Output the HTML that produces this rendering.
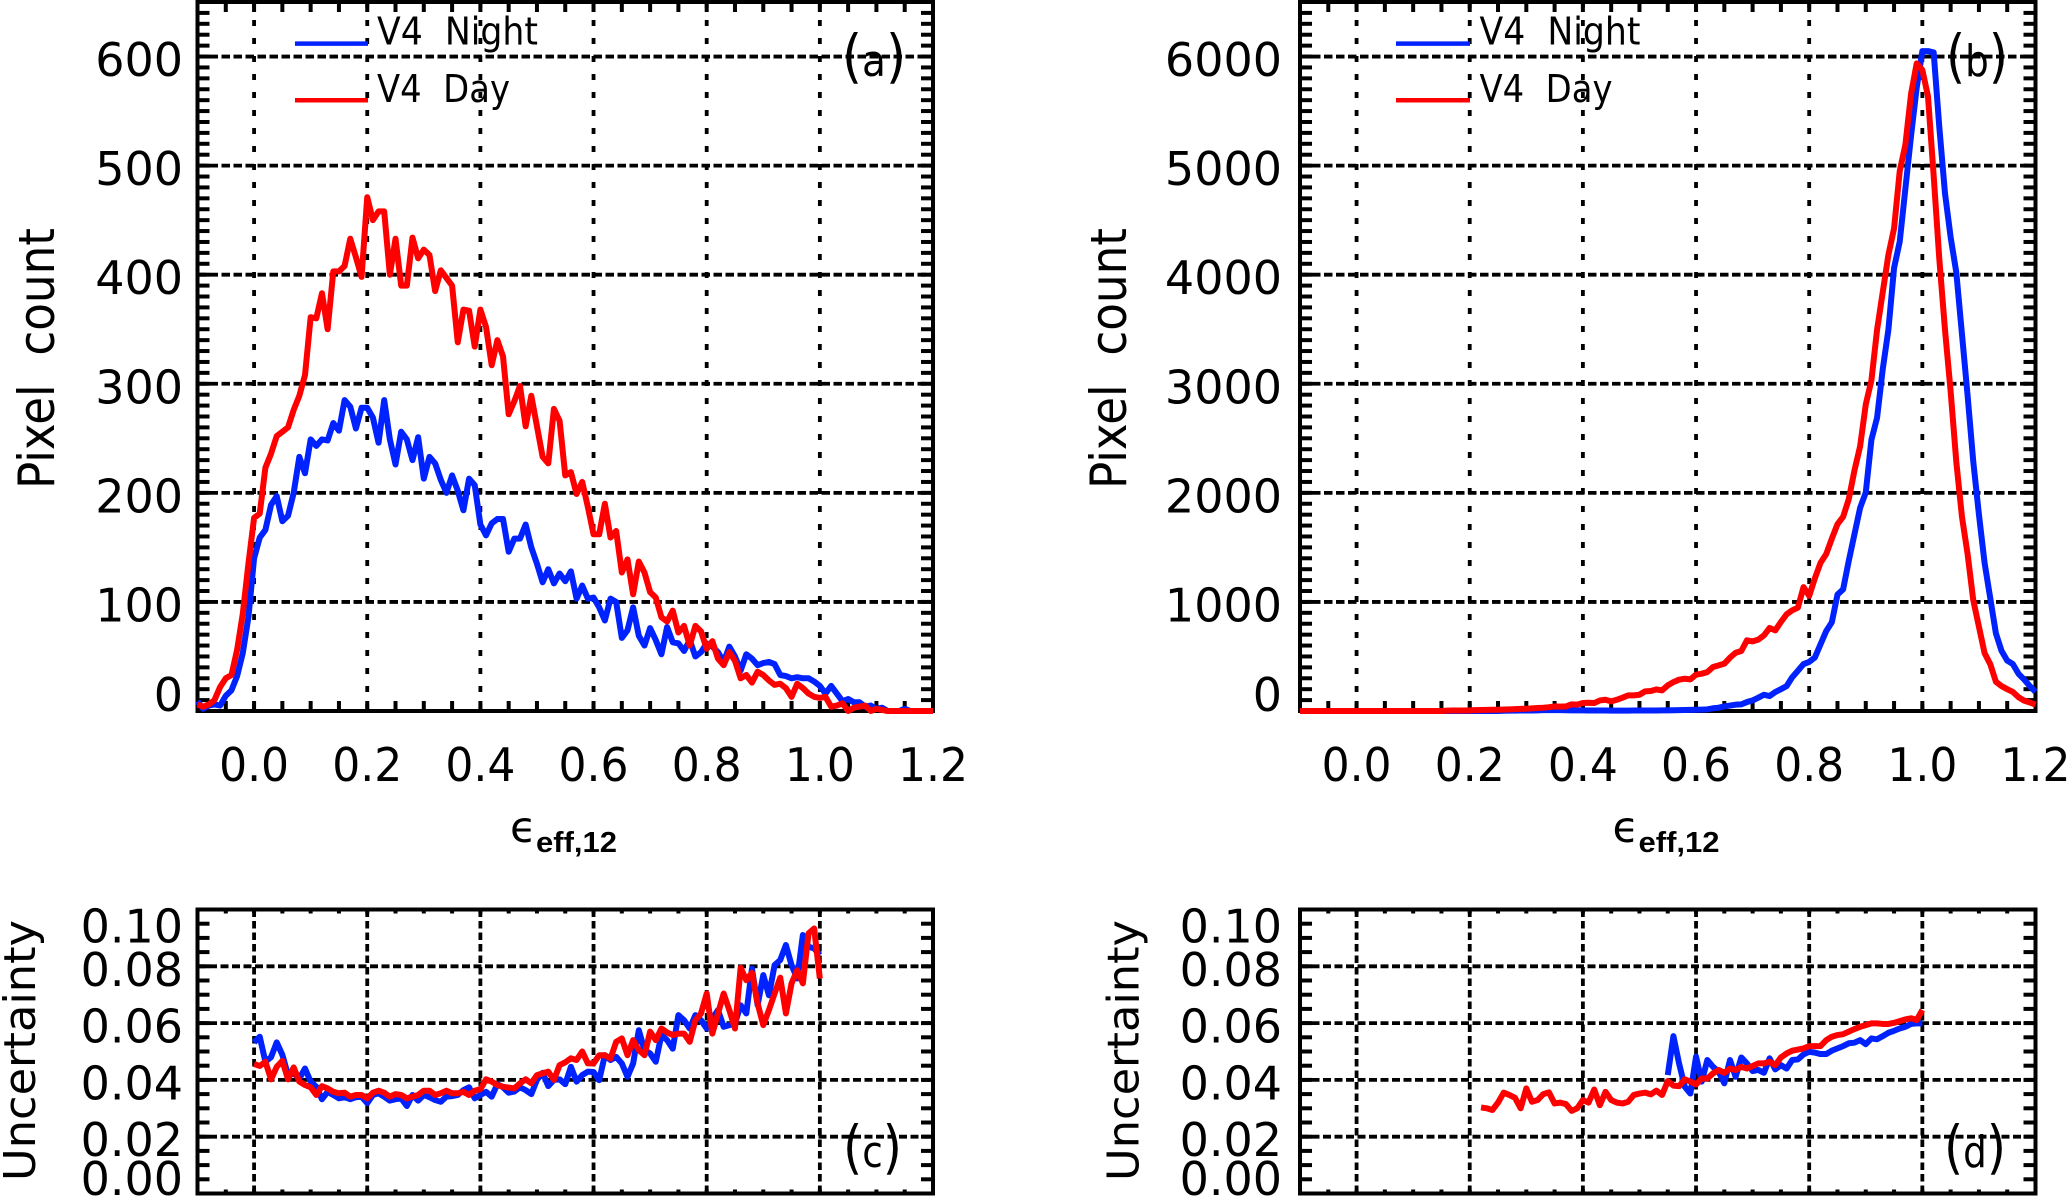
<!DOCTYPE html>
<html lang="en">
<head>
<meta charset="utf-8">
<title>Pixel count and uncertainty histograms</title>
<style>
html,body{margin:0;padding:0;background:#fff;}
body{width:2067px;height:1196px;overflow:hidden;}
svg{display:block;}
text{font-family:"DejaVu Sans","Liberation Sans",sans-serif;fill:#000;white-space:pre;}
.tick-label{font-size:46px;}
.y-title{font-size:50px;text-anchor:middle;}
.u-title{font-size:44px;text-anchor:middle;}
.legend-text{font-size:38px;}
.panel-tag{font-size:44px;}
.paren{font-size:58px;}
.eps{font-size:43px;}
.sub{font-family:"Liberation Sans",sans-serif;font-weight:bold;font-size:29px;}
</style>
</head>
<body>
<svg id="figure" xmlns="http://www.w3.org/2000/svg" width="2067" height="1196" viewBox="0 0 2067 1196">
  <rect x="0" y="0" width="2067" height="1196" fill="#fff"/>

  <g id="panel-a">
    <g class="plot"></g>
    <text class="y-title" x="54" y="358.5" transform="rotate(-90 54 358.5)" textLength="261" lengthAdjust="spacingAndGlyphs">Pixel  count</text>
    <g>
      <text class="eps" x="510" y="842">ϵ</text>
      <text class="sub" x="536" y="852" textLength="81" lengthAdjust="spacingAndGlyphs">eff,12</text>
    </g>
    <g>
      <line x1="295" x2="368" y1="43.6" y2="43.6" stroke="#0022ff" stroke-width="4.5"/>
      <text class="legend-text" x="377" y="44.6" textLength="161" lengthAdjust="spacingAndGlyphs">V4  Night</text>
      <line x1="295" x2="368" y1="100.3" y2="100.3" stroke="#ff0000" stroke-width="4.5"/>
      <text class="legend-text" x="377" y="101.8" textLength="133" lengthAdjust="spacingAndGlyphs">V4  Day</text>
    </g>
    <text class="panel-tag" x="842" y="76" textLength="64" lengthAdjust="spacingAndGlyphs"><tspan class="paren">(</tspan>a<tspan class="paren">)</tspan></text>
  </g>

  <g id="panel-b">
    <g class="plot"></g>
    <text class="y-title" x="1126" y="358.5" transform="rotate(-90 1126 358.5)" textLength="261" lengthAdjust="spacingAndGlyphs">Pixel  count</text>
    <g>
      <text class="eps" x="1612.5" y="842">ϵ</text>
      <text class="sub" x="1638.5" y="852" textLength="81" lengthAdjust="spacingAndGlyphs">eff,12</text>
    </g>
    <g>
      <line x1="1396" x2="1470" y1="43.6" y2="43.6" stroke="#0022ff" stroke-width="4.5"/>
      <text class="legend-text" x="1479.5" y="44.6" textLength="161" lengthAdjust="spacingAndGlyphs">V4  Night</text>
      <line x1="1396" x2="1470" y1="100.3" y2="100.3" stroke="#ff0000" stroke-width="4.5"/>
      <text class="legend-text" x="1479.5" y="101.8" textLength="133" lengthAdjust="spacingAndGlyphs">V4  Day</text>
    </g>
    <text class="panel-tag" x="1946" y="76" textLength="62" lengthAdjust="spacingAndGlyphs"><tspan class="paren">(</tspan>b<tspan class="paren">)</tspan></text>
  </g>

  <g id="panel-c">
    <g class="plot"></g>
    <text class="u-title" x="35" y="1050.5" transform="rotate(-90 35 1050.5)" textLength="261" lengthAdjust="spacingAndGlyphs">Uncertainty</text>
    <text class="panel-tag" x="843" y="1167" textLength="59" lengthAdjust="spacingAndGlyphs"><tspan class="paren">(</tspan>c<tspan class="paren">)</tspan></text>
  </g>

  <g id="panel-d">
    <g class="plot"></g>
    <text class="u-title" x="1138.5" y="1050.5" transform="rotate(-90 1138.5 1050.5)" textLength="261" lengthAdjust="spacingAndGlyphs">Uncertainty</text>
    <text class="panel-tag" x="1944" y="1167" textLength="62" lengthAdjust="spacingAndGlyphs"><tspan class="paren">(</tspan>d<tspan class="paren">)</tspan></text>
  </g>
</svg>

<script>
// ---- tick data ----
const xTickValues = [0, 0.2, 0.4, 0.6, 0.8, 1.0, 1.2];
const xTickLabels = ['0.0', '0.2', '0.4', '0.6', '0.8', '1.0', '1.2'];
const yTicksA = [0, 100, 200, 300, 400, 500, 600];
const yLabelsA = ['0', '100', '200', '300', '400', '500', '600'];
const yTicksB = [0, 1000, 2000, 3000, 4000, 5000, 6000];
const yLabelsB = ['0', '1000', '2000', '3000', '4000', '5000', '6000'];
const yTicksU = [0, 0.02, 0.04, 0.06, 0.08, 0.10];
const yLabelsU = ['0.00', '0.02', '0.04', '0.06', '0.08', '0.10'];

// ---- series values ----
// Panel (a): pixel counts, bins of 0.01 from -0.10
const nightCountsA = [9,2,5,6,5,14,19,32,53,86,140,159,166,189,197,174,179,200,233,218,249,243,249,248,264,257,285,279,259,278,278,269,246,285,249,226,256,249,230,251,213,233,227,212,200,216,202,184,213,207,171,161,172,176,176,146,158,158,171,150,135,118,130,117,126,119,128,103,115,103,104,95,83,103,100,67,74,95,69,60,76,65,52,77,63,62,55,65,50,54,62,59,54,45,59,50,37,52,48,42,44,45,43,33,32,30,31,30,30,27,23,16,23,16,9,11,8,8,4,5,2,3,0,0,0,2,0,0,0,0,0];
const dayCountsA = [6,4,6,10,22,30,33,56,89,135,177,181,223,236,252,256,260,276,289,308,361,360,383,350,403,403,408,433,416,398,471,450,458,458,400,433,390,390,434,415,423,418,385,404,397,390,338,368,367,334,368,352,317,340,325,272,284,298,261,289,261,233,227,277,266,216,219,199,210,187,162,162,190,159,165,127,139,107,137,127,109,104,86,82,92,72,78,60,78,73,57,64,48,42,54,46,30,33,26,36,33,28,24,25,21,13,25,21,16,13,12,13,4,5,7,0,3,4,5,0,2,1,0,0,0,0,0,0,0,0,0];
// Panel (b): pixel counts, bins of 0.01 from -0.10
const nightCountsB = [0,0,0,0,0,0,0,0,0,0,0,0,0,0,0,0,0,0,0,0,0,0,0,0,0,0,0,0,0,0,0,0,0,0,0,0,2,3,3,4,4,5,6,8,8,8,8,7,6,6,6,5,5,4,4,3,3,3,3,4,4,5,5,5,6,6,7,8,9,10,12,13,15,25,30,42,50,58,61,82,97,122,149,137,174,200,228,309,369,430,450,490,611,732,813,1067,1116,1378,1620,1862,2003,2487,2689,3133,3496,4061,4303,4787,5272,5715,6050,6050,6038,5352,4747,4344,4021,3456,2891,2286,1802,1358,1035,712,551,462,430,341,288,228,175];
const dayCountsB = [0,0,0,0,0,0,0,0,0,0,0,0,0,0,0,0,0,0,0,0,0,0,0,0,0,0,3,4,4,5,6,8,9,10,11,12,14,15,17,19,21,24,27,30,35,42,40,42,61,58,73,76,73,97,103,88,103,122,143,143,149,180,183,198,189,235,265,287,296,290,333,342,357,403,418,434,489,534,550,648,638,654,693,761,739,816,886,923,947,1136,1055,1216,1358,1438,1580,1713,1781,1943,2205,2427,2810,3032,3496,3839,4182,4424,4949,5191,5655,5937,5877,5635,4908,4142,3496,2931,2286,1781,1438,1015,773,531,430,268,228,200,175,127,95,78,58];
// Panel (c): uncertainty x 1000, bins of 0.01 from 0.00
const nightUncC = [53.2,55.2,46.4,48,53.2,48.8,41.7,42.3,40.5,44,39.4,37.6,33.2,35.8,34.7,33.5,33.9,33.2,33.9,34.1,31.8,34.7,35.3,34.1,32.7,33.2,33.5,30.8,34.7,32.7,34.7,33.9,32.9,32.3,34.1,34.3,34.7,36.4,37.4,33.5,34.7,35.8,34.1,38.5,37.4,35.5,35.9,37.4,36.4,35,40,42.5,37.8,40,40.2,38.5,44.6,39.4,41.7,42.9,42.8,39.9,48.7,47,48.1,45.8,41.1,45.8,57.5,50.5,49.3,46.4,55.8,54,51,62.8,61,58.1,62.8,61,58.1,61.6,64.6,58.7,59.3,59.9,66.3,63.4,79.2,66.3,76.9,69.8,80.4,82.2,87.5,80.4,75.7,91,86.9,86.3,83.9];
const dayUncC = [45.6,44.9,46.4,40.2,44.6,46.7,40.2,44.4,39.4,38.2,37.4,34.7,37.8,37,35.8,35.3,35.5,34.1,34.7,34.7,33.5,35.5,36.2,35.5,34.1,35,34.7,33.5,34.1,34.7,36.2,36.2,34.7,35.3,36.2,35.3,35.3,35.8,34.7,36.2,36.7,40.2,39.4,38.2,37.6,37.3,37,38.8,40.2,38.8,41.7,42.3,42.9,40,45.2,46.2,47.6,47,50,45.8,45.8,48.7,48.7,47.5,53.4,54.6,48.7,54,50.5,48.7,57,54,58.1,56.7,55.8,56.3,56.3,53.4,61,63.4,70.4,56.3,63.4,70.4,64.6,58.1,79.5,75.1,77.7,66.9,59.3,64.6,70.4,76,63.4,74,78.6,74,91.6,93.3,75.7];
// Panel (d): uncertainty x 1000; night begins at 0.55, day begins at 0.22
const nightUncD = [41.7,55.4,45.8,37.6,35.2,48.2,39.4,47,44.6,42.9,38.8,47,41.1,47.9,45.8,43.1,43.5,42.5,47.6,43.7,45.2,44,47,47.2,49,49.9,49.6,49.1,49.1,50.3,51.1,51.9,52.9,53.1,54,52.6,54.6,54.3,55.4,56.6,57.3,58.1,58.7,59.7,59.9,59.9];
const dayUncD = [30.3,30,29.4,32,35.5,34.7,33.7,30,37,32.3,32.9,35,35.6,31.7,32,31.5,29.1,30,32.9,32,36.6,31.1,35.8,32.9,32,31.7,32.3,34.7,35.2,35.5,34.9,36.2,34.7,39.6,38,37.8,40.2,39.4,38.4,40.5,40.5,42.3,43.5,42.5,44,43.5,44.6,44,44.9,45.8,45.8,46.4,45.2,47.9,49.3,50.3,50.7,51.1,51.9,51.9,51.9,54,55.2,55.8,56.1,57,57.9,58.7,59.3,59.9,59.9,59.7,59.7,60.1,60.7,61.3,61.7,61.1,64.6];

const NS = 'http://www.w3.org/2000/svg';
const BLUE = '#0022ff';
const RED = '#ff0000';

function el(tag, attrs) {
  const e = document.createElementNS(NS, tag);
  for (const k in attrs) e.setAttribute(k, attrs[k]);
  return e;
}

function drawPanel(cfg) {
  const g = document.querySelector('#' + cfg.id + ' .plot');
  const xScale = v => cfg.left + (v - (-0.1)) / 1.3 * (cfg.right - cfg.left);
  const yScale = v => cfg.bottom - (v - cfg.yMin) / (cfg.yMax - cfg.yMin) * (cfg.bottom - cfg.top);

  // horizontal grid (interior ticks only)
  cfg.yTicks.forEach(v => {
    if (v <= cfg.yMin || v >= cfg.yMax) return;
    const line = el('line', {x1: cfg.left, x2: cfg.right, y1: yScale(v), y2: yScale(v), stroke: '#000', 'stroke-width': 3.8, 'stroke-dasharray': cfg.hDash});
    
    
    g.appendChild(line);
  });
  // vertical grid
  xTickValues.forEach(v => {
    if (v >= 1.2) return;
    const line = el('line', {x1: xScale(v), x2: xScale(v), y1: cfg.top, y2: cfg.bottom, stroke: '#000', 'stroke-width': 3.8, 'stroke-dasharray': cfg.vDash});
    
    
    g.appendChild(line);
  });
  // minor x ticks
  for (let k = 1; k < 26; k++) {
    const xv = -0.1 + k * 0.05;
    const top = el('line', {x1: xScale(xv), x2: xScale(xv), y1: cfg.top, y2: cfg.top + cfg.xTickLen, stroke: '#000', 'stroke-width': 4});
    
    
    g.appendChild(top);
    const bot = el('line', {x1: xScale(xv), x2: xScale(xv), y1: cfg.bottom, y2: cfg.bottom - cfg.xTickLen, stroke: '#000', 'stroke-width': 4});
    
    
    g.appendChild(bot);
  }
  // minor y ticks
  const n = Math.round((cfg.yMax - cfg.yMin) / cfg.yMinor);
  for (let k = 1; k < n; k++) {
    const yv = cfg.yMin + k * cfg.yMinor;
    const left = el('line', {x1: cfg.left, x2: cfg.left + 12, y1: yScale(yv), y2: yScale(yv), stroke: '#000', 'stroke-width': 4});
    
    
    g.appendChild(left);
    const right = el('line', {x1: cfg.right, x2: cfg.right - 12, y1: yScale(yv), y2: yScale(yv), stroke: '#000', 'stroke-width': 4});
    
    
    g.appendChild(right);
  }
  // frame
  const frame = el('rect', {x: cfg.left, y: cfg.top, width: cfg.right - cfg.left, height: cfg.bottom - cfg.top, fill: 'none', stroke: '#000', 'stroke-width': 4});
  
  
  g.appendChild(frame);

  // series: night first, day on top
  const pathFor = (vals, start) => vals.map((v, i) => (i ? 'L' : 'M') + xScale(start + i * 0.01).toFixed(2) + ' ' + yScale(v * cfg.valueScale).toFixed(2)).join(' ');
  const night = el('path', {d: pathFor(cfg.night, cfg.nightStart), fill: 'none', stroke: BLUE, 'stroke-width': 6, 'stroke-linejoin': 'round'});
  
  
  g.appendChild(night);
  const day = el('path', {d: pathFor(cfg.day, cfg.dayStart), fill: 'none', stroke: RED, 'stroke-width': 6, 'stroke-linejoin': 'round'});
  
  
  g.appendChild(day);

  // y tick labels
  cfg.yTicks.forEach((v, i) => {
    const base = Math.min(Math.max(yScale(v) + 19.5, cfg.top + 33), cfg.bottom + cfg.labelDrop);
    const t = el('text', {x: cfg.labelRight, y: base, 'text-anchor': 'end', class: 'tick-label'});
    t.textContent = cfg.yLabels[i];
    
    
    g.appendChild(t);
  });
  // x tick labels
  if (cfg.showX) {
    xTickValues.forEach((v, i) => {
      const t = el('text', {x: xScale(v), y: 781, 'text-anchor': 'middle', class: 'tick-label', textLength: 70, lengthAdjust: 'spacingAndGlyphs'});
      t.textContent = xTickLabels[i];
      
      
      g.appendChild(t);
    });
  }
}

drawPanel({id: 'panel-a', left: 197.5, right: 933, top: 2, bottom: 711, yMin: 0, yMax: 650, yMinor: 10, yTicks: yTicksA, yLabels: yLabelsA, night: nightCountsA, day: dayCountsA, nightStart: -0.1, dayStart: -0.1, valueScale: 1, xTickLen: 10, hDash: '8.5 3.5', vDash: '6 12', labelRight: 183, labelDrop: 0, showX: true});
drawPanel({id: 'panel-b', left: 1300, right: 2035.5, top: 2, bottom: 711, yMin: 0, yMax: 6500, yMinor: 100, yTicks: yTicksB, yLabels: yLabelsB, night: nightCountsB, day: dayCountsB, nightStart: -0.1, dayStart: -0.1, valueScale: 1, xTickLen: 10, hDash: '8.5 3.5', vDash: '6 12', labelRight: 1282, labelDrop: 0, showX: true});
drawPanel({id: 'panel-c', left: 197.5, right: 933, top: 909.5, bottom: 1193.5, yMin: 0, yMax: 0.1, yMinor: 0.005, yTicks: yTicksU, yLabels: yLabelsU, night: nightUncC, day: dayUncC, nightStart: 0, dayStart: 0, valueScale: 0.001, xTickLen: 4, hDash: '8 3.5', vDash: '7.5 4', labelRight: 183, labelDrop: 1.5, showX: false});
drawPanel({id: 'panel-d', left: 1300, right: 2035.5, top: 909.5, bottom: 1193.5, yMin: 0, yMax: 0.1, yMinor: 0.005, yTicks: yTicksU, yLabels: yLabelsU, night: nightUncD, day: dayUncD, nightStart: 0.55, dayStart: 0.22, valueScale: 0.001, xTickLen: 4, hDash: '8 3.5', vDash: '7.5 4', labelRight: 1282, labelDrop: 1.5, showX: false});
</script>
</body>
</html>
